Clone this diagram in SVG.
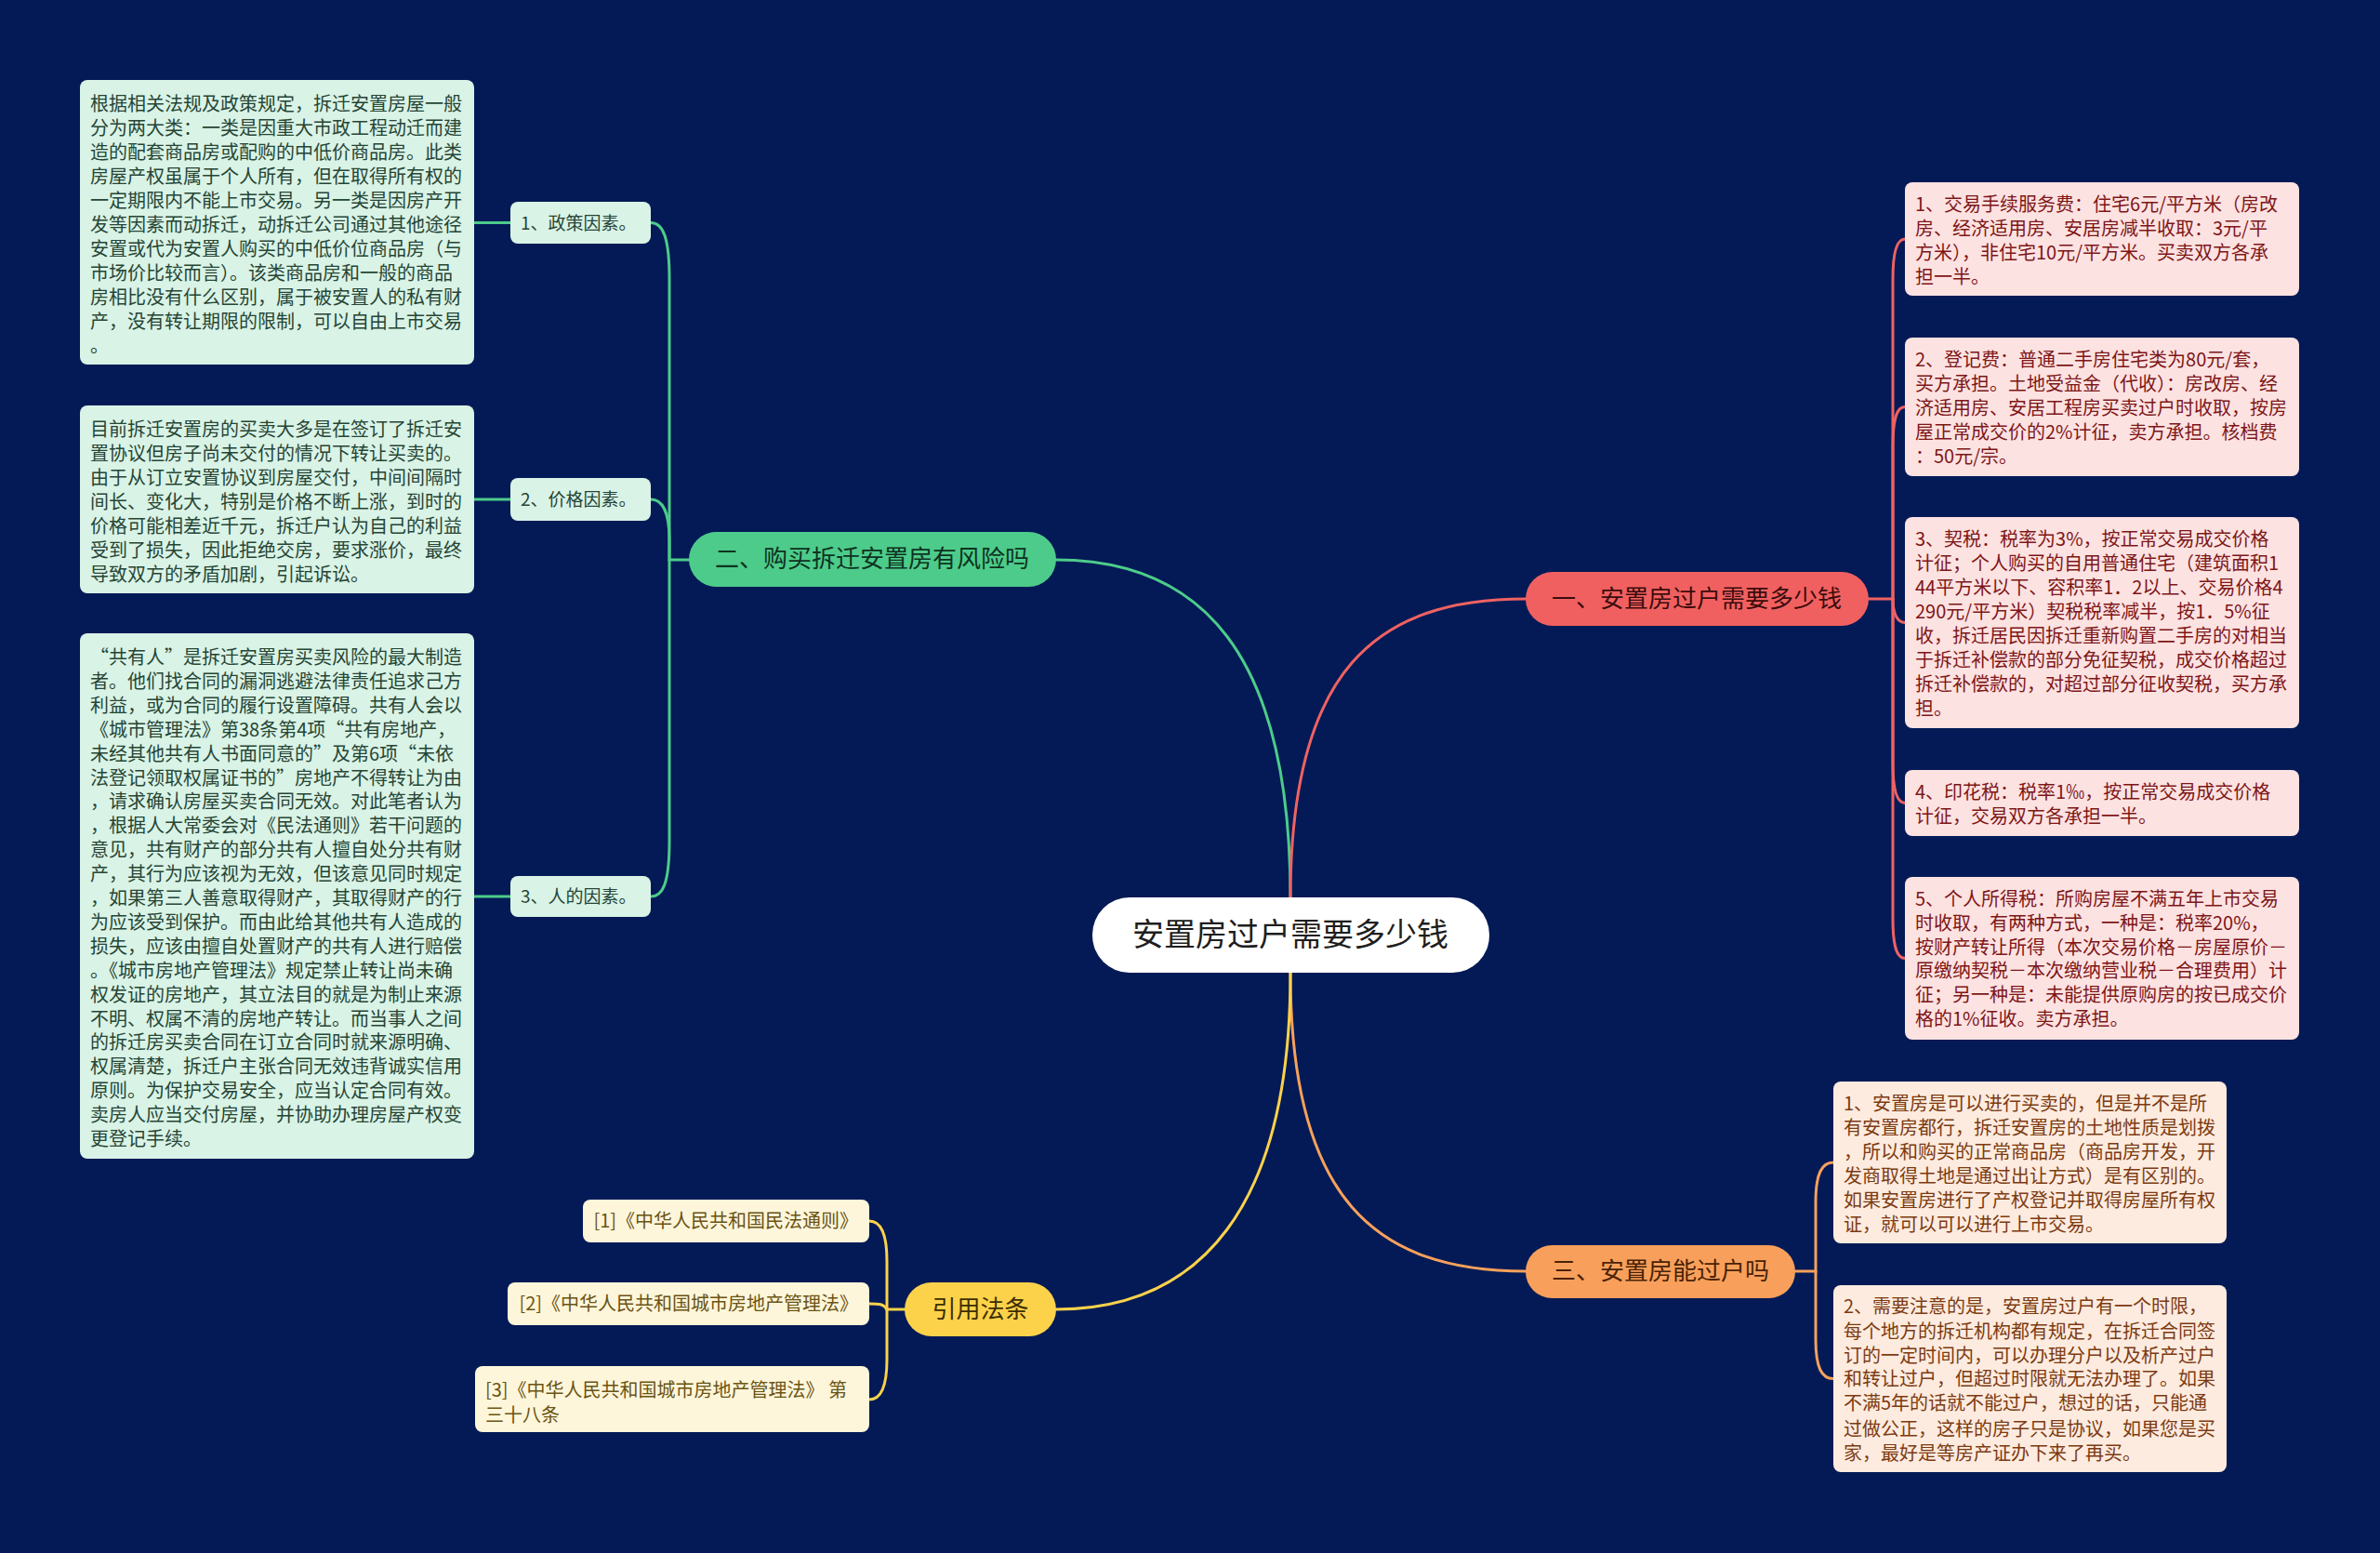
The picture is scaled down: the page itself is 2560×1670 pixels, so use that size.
<svg xmlns="http://www.w3.org/2000/svg" width="2560" height="1670" viewBox="0 0 2560 1670">
<style>
text{font-family:"Noto Sans CJK SC","Noto Sans",sans-serif;}
.c{fill:none;stroke-width:3;stroke-linecap:round}
.cg{stroke:#4dcb8a}.cr{stroke:#ef6262}.co{stroke:#f7a15c}.cy{stroke:#fcd24b}
.bg{fill:#d9f3e6}.br{fill:#fde2e2}.bo{fill:#fdebdf}.by{fill:#fef6da}
.tg{font-size:20px;fill:#264535}.tr{font-size:20px;fill:#7d1616}.to{font-size:20px;fill:#7c3a10}.ty{font-size:20px;fill:#6b5313}
.ts{font-size:19px;fill:#264535}
.tb{font-size:26px;text-anchor:middle}
</style>
<rect width="2560" height="1670" fill="#031a56"/>
<g id="connectors">
<path class="c cg" d="M1388,1000 V966 C1388,700 1290,602 1136,602"/>
<path class="c cr" d="M1388,1000 V966 C1388,720 1480,644 1641,644"/>
<path class="c co" d="M1388,1010 V1046 C1388,1290 1480,1367 1641,1367"/>
<path class="c cy" d="M1388,1010 V1046 C1388,1300 1290,1408 1136,1408"/>
<path class="c cg" d="M741,602 H720 V300 C720,255 713,239.5 700,239.5"/>
<path class="c cg" d="M720,602 V580 C720,550 712,537 700,537"/>
<path class="c cg" d="M720,602 V904 C720,950 713,964 700,964"/>
<path class="c cg" d="M510,239.5 H549 M510,537 H549 M510,964 H549"/>
<path class="c cr" d="M2010,644 H2036 V300 C2036,268 2041,257 2049,257"/>
<path class="c cr" d="M2036,644 V480 C2036,448 2041,437.5 2049,437.5"/>
<path class="c cr" d="M2036,644 C2036,660 2041,669.5 2049,669.5"/>
<path class="c cr" d="M2036,644 V820 C2036,852 2041,863.5 2049,863.5"/>
<path class="c cr" d="M2036,644 V988 C2036,1020 2041,1030.5 2049,1030.5"/>
<path class="c co" d="M1931,1367 H1953 V1293 C1953,1261 1960,1250 1972,1250"/>
<path class="c co" d="M1953,1367 V1440 C1953,1472 1960,1482.5 1972,1482.5"/>
<path class="c cy" d="M973,1408 H954 V1356 C954,1324 946,1313 935,1313"/>
<path class="c cy" d="M954,1408 C950,1402 946,1402 935,1402"/>
<path class="c cy" d="M954,1408 V1462 C954,1494 946,1505 935,1505"/>
</g>
<g id="root">
<rect x="1175" y="965" width="427" height="81" rx="40" fill="#ffffff"/>
<text x="1388" y="1017" font-size="34" text-anchor="middle" fill="#1e1e1e">安置房过户需要多少钱</text>
</g>
<g id="b1">
<rect x="1641" y="615" width="369" height="58" rx="29" fill="#f16060"/>
<text class="tb" x="1825" y="653" fill="#3b0c0c">一、安置房过户需要多少钱</text>
</g>
<g id="b2">
<rect x="741" y="572" width="395" height="59" rx="29.5" fill="#4dcb8a"/>
<text class="tb" x="938" y="610" fill="#0d3321">二、购买拆迁安置房有风险吗</text>
</g>
<g id="b3">
<rect x="1641" y="1339" width="290" height="57" rx="28.5" fill="#f8a05b"/>
<text class="tb" x="1786" y="1376" fill="#4a2206">三、安置房能过户吗</text>
</g>
<g id="b4">
<rect x="973" y="1379" width="163" height="58" rx="29" fill="#fcd24b"/>
<text class="tb" x="1054.5" y="1417" fill="#3d2e00">引用法条</text>
</g>
<g id="s1">
<rect class="bg" x="549" y="217" width="151" height="45" rx="8"/>
<text class="ts" x="560" y="246.5">1、政策因素。</text>
</g>
<g id="s2">
<rect class="bg" x="549" y="514" width="151" height="46" rx="8"/>
<text class="ts" x="560" y="544">2、价格因素。</text>
</g>
<g id="s3">
<rect class="bg" x="549" y="942" width="151" height="44" rx="8"/>
<text class="ts" x="560" y="971">3、人的因素。</text>
</g>
<g id="l1">
<rect class="bg" x="86" y="86" width="424" height="306" rx="8"/>
<text class="tg">
<tspan x="97" y="119">根据相关法规及政策规定，拆迁安置房屋一般</tspan>
<tspan x="97" y="145">分为两大类：一类是因重大市政工程动迁而建</tspan>
<tspan x="97" y="171">造的配套商品房或配购的中低价商品房。此类</tspan>
<tspan x="97" y="197">房屋产权虽属于个人所有，但在取得所有权的</tspan>
<tspan x="97" y="223">一定期限内不能上市交易。另一类是因房产开</tspan>
<tspan x="97" y="249">发等因素而动拆迁，动拆迁公司通过其他途径</tspan>
<tspan x="97" y="275">安置或代为安置人购买的中低价位商品房（与</tspan>
<tspan x="97" y="301">市场价比较而言）。该类商品房和一般的商品</tspan>
<tspan x="97" y="327">房相比没有什么区别，属于被安置人的私有财</tspan>
<tspan x="97" y="353">产，没有转让期限的限制，可以自由上市交易</tspan>
<tspan x="97" y="379">。</tspan>
</text>
</g>
<g id="l2">
<rect class="bg" x="86" y="436" width="424" height="202" rx="8"/>
<text class="tg">
<tspan x="97" y="469">目前拆迁安置房的买卖大多是在签订了拆迁安</tspan>
<tspan x="97" y="495">置协议但房子尚未交付的情况下转让买卖的。</tspan>
<tspan x="97" y="521">由于从订立安置协议到房屋交付，中间间隔时</tspan>
<tspan x="97" y="547">间长、变化大，特别是价格不断上涨，到时的</tspan>
<tspan x="97" y="573">价格可能相差近千元，拆迁户认为自己的利益</tspan>
<tspan x="97" y="599">受到了损失，因此拒绝交房，要求涨价，最终</tspan>
<tspan x="97" y="625">导致双方的矛盾加剧，引起诉讼。</tspan>
</text>
</g>
<g id="l3">
<rect class="bg" x="86" y="681" width="424" height="565" rx="8"/>
<text class="tg">
<tspan x="97" y="714">“共有人”是拆迁安置房买卖风险的最大制造</tspan>
<tspan x="97" y="739.9">者。他们找合同的漏洞逃避法律责任追求己方</tspan>
<tspan x="97" y="765.8">利益，或为合同的履行设置障碍。共有人会以</tspan>
<tspan x="97" y="791.7">《城市管理法》第38条第4项“共有房地产，</tspan>
<tspan x="97" y="817.6">未经其他共有人书面同意的”及第6项“未依</tspan>
<tspan x="97" y="843.5">法登记领取权属证书的”房地产不得转让为由</tspan>
<tspan x="97" y="869.4">，请求确认房屋买卖合同无效。对此笔者认为</tspan>
<tspan x="97" y="895.3">，根据人大常委会对《民法通则》若干问题的</tspan>
<tspan x="97" y="921.2">意见，共有财产的部分共有人擅自处分共有财</tspan>
<tspan x="97" y="947.1">产，其行为应该视为无效，但该意见同时规定</tspan>
<tspan x="97" y="973">，如果第三人善意取得财产，其取得财产的行</tspan>
<tspan x="97" y="998.9">为应该受到保护。而由此给其他共有人造成的</tspan>
<tspan x="97" y="1024.8">损失，应该由擅自处置财产的共有人进行赔偿</tspan>
<tspan x="97" y="1050.7">。《城市房地产管理法》规定禁止转让尚未确</tspan>
<tspan x="97" y="1076.6">权发证的房地产，其立法目的就是为制止来源</tspan>
<tspan x="97" y="1102.5">不明、权属不清的房地产转让。而当事人之间</tspan>
<tspan x="97" y="1128.4">的拆迁房买卖合同在订立合同时就来源明确、</tspan>
<tspan x="97" y="1154.3">权属清楚，拆迁户主张合同无效违背诚实信用</tspan>
<tspan x="97" y="1180.2">原则。为保护交易安全，应当认定合同有效。</tspan>
<tspan x="97" y="1206.1">卖房人应当交付房屋，并协助办理房屋产权变</tspan>
<tspan x="97" y="1232">更登记手续。</tspan>
</text>
</g>
<g id="r1">
<rect class="br" x="2049" y="196" width="424" height="122" rx="8"/>
<text class="tr">
<tspan x="2060" y="227">1、交易手续服务费：住宅6元/平方米（房改</tspan>
<tspan x="2060" y="253">房、经济适用房、安居房减半收取：3元/平</tspan>
<tspan x="2060" y="279">方米），非住宅10元/平方米。买卖双方各承</tspan>
<tspan x="2060" y="305">担一半。</tspan>
</text>
</g>
<g id="r2">
<rect class="br" x="2049" y="363" width="424" height="149" rx="8"/>
<text class="tr">
<tspan x="2060" y="394">2、登记费：普通二手房住宅类为80元/套，</tspan>
<tspan x="2060" y="420">买方承担。土地受益金（代收）：房改房、经</tspan>
<tspan x="2060" y="446">济适用房、安居工程房买卖过户时收取，按房</tspan>
<tspan x="2060" y="472">屋正常成交价的2%计征，卖方承担。核档费</tspan>
<tspan x="2060" y="498">：50元/宗。</tspan>
</text>
</g>
<g id="r3">
<rect class="br" x="2049" y="556" width="424" height="227" rx="8"/>
<text class="tr">
<tspan x="2060" y="587">3、契税：税率为3%，按正常交易成交价格</tspan>
<tspan x="2060" y="613">计征；个人购买的自用普通住宅（建筑面积1</tspan>
<tspan x="2060" y="639">44平方米以下、容积率1．2以上、交易价格4</tspan>
<tspan x="2060" y="665">290元/平方米）契税税率减半，按1．5%征</tspan>
<tspan x="2060" y="691">收，拆迁居民因拆迁重新购置二手房的对相当</tspan>
<tspan x="2060" y="717">于拆迁补偿款的部分免征契税，成交价格超过</tspan>
<tspan x="2060" y="743">拆迁补偿款的，对超过部分征收契税，买方承</tspan>
<tspan x="2060" y="769">担。</tspan>
</text>
</g>
<g id="r4">
<rect class="br" x="2049" y="828" width="424" height="71" rx="8"/>
<text class="tr">
<tspan x="2060" y="859">4、印花税：税率1‰，按正常交易成交价格</tspan>
<tspan x="2060" y="885">计征，交易双方各承担一半。</tspan>
</text>
</g>
<g id="r5">
<rect class="br" x="2049" y="943" width="424" height="175" rx="8"/>
<text class="tr">
<tspan x="2060" y="974">5、个人所得税：所购房屋不满五年上市交易</tspan>
<tspan x="2060" y="1000">时收取，有两种方式，一种是：税率20%，</tspan>
<tspan x="2060" y="1026">按财产转让所得（本次交易价格－房屋原价－</tspan>
<tspan x="2060" y="1051">原缴纳契税－本次缴纳营业税－合理费用）计</tspan>
<tspan x="2060" y="1077">征；另一种是：未能提供原购房的按已成交价</tspan>
<tspan x="2060" y="1103">格的1%征收。卖方承担。</tspan>
</text>
</g>
<g id="o1">
<rect class="bo" x="1972" y="1163" width="423" height="174" rx="8"/>
<text class="to">
<tspan x="1983" y="1194">1、安置房是可以进行买卖的，但是并不是所</tspan>
<tspan x="1983" y="1220">有安置房都行，拆迁安置房的土地性质是划拨</tspan>
<tspan x="1983" y="1246">，所以和购买的正常商品房（商品房开发，开</tspan>
<tspan x="1983" y="1272">发商取得土地是通过出让方式）是有区别的。</tspan>
<tspan x="1983" y="1298">如果安置房进行了产权登记并取得房屋所有权</tspan>
<tspan x="1983" y="1324">证，就可以可以进行上市交易。</tspan>
</text>
</g>
<g id="o2">
<rect class="bo" x="1972" y="1382" width="423" height="201" rx="8"/>
<text class="to">
<tspan x="1983" y="1412">2、需要注意的是，安置房过户有一个时限，</tspan>
<tspan x="1983" y="1439">每个地方的拆迁机构都有规定，在拆迁合同签</tspan>
<tspan x="1983" y="1465">订的一定时间内，可以办理分户以及析产过户</tspan>
<tspan x="1983" y="1490">和转让过户，但超过时限就无法办理了。如果</tspan>
<tspan x="1983" y="1516">不满5年的话就不能过户，想过的话，只能通</tspan>
<tspan x="1983" y="1544">过做公正，这样的房子只是协议，如果您是买</tspan>
<tspan x="1983" y="1570">家，最好是等房产证办下来了再买。</tspan>
</text>
</g>
<g id="y1">
<rect class="by" x="627" y="1290" width="308" height="46" rx="8"/>
<text class="ty" x="923" y="1320" text-anchor="end">[1]《中华人民共和国民法通则》</text>
</g>
<g id="y2">
<rect class="by" x="546" y="1379" width="389" height="46" rx="8"/>
<text class="ty" x="923" y="1409" text-anchor="end">[2]《中华人民共和国城市房地产管理法》</text>
</g>
<g id="y3">
<rect class="by" x="511" y="1469" width="424" height="71" rx="8"/>
<text class="ty">
<tspan x="522" y="1502">[3]《中华人民共和国城市房地产管理法》 第</tspan>
<tspan x="522" y="1529">三十八条</tspan>
</text>
</g>
</svg>
